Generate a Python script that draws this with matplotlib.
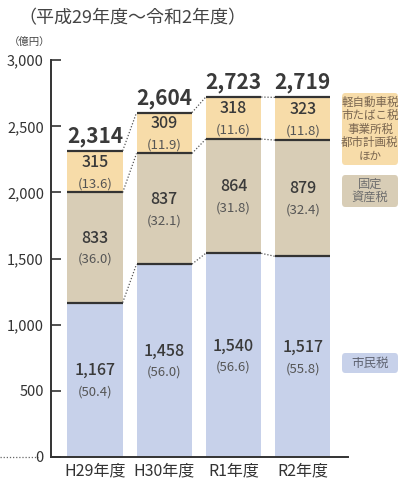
import numpy as np
import matplotlib
matplotlib.use("Agg")
import matplotlib.pyplot as plt
from matplotlib.patches import FancyBboxPatch

plt.rcParams['font.family'] = ['Noto Sans CJK JP', 'DejaVu Sans']

# data
years = ['H29年度', 'H30年度', 'R1年度', 'R2年度']
shimin = [1167, 1458, 1540, 1517]
kotei = [833, 837, 864, 879]
sonota = [315, 309, 318, 323]
totals = ['2,314', '2,604', '2,723', '2,719']
shimin_pct = ['(50.4)', '(56.0)', '(56.6)', '(55.8)']
kotei_pct = ['(36.0)', '(32.1)', '(31.8)', '(32.4)']
sonota_pct = ['(13.6)', '(11.9)', '(11.6)', '(11.8)']
yticks = [0, 500, 1000, 1500, 2000, 2500, 3000]

c_blue = '#c7d1ea'
c_tan = '#d8cdb6'
c_yel = '#f7dca9'
c_text = '#3a3a3a'
c_sub = '#555555'

fig = plt.figure(figsize=(4.14, 4.82), dpi=100)
ax = fig.add_axes([0.123, 0.052, 0.718, 0.823])

x = np.arange(len(years))
w = 0.8
shimin = np.array(shimin)
kotei = np.array(kotei)
sonota = np.array(sonota)
b1 = shimin
b2 = shimin + kotei
b3 = b2 + sonota

ax.bar(x, shimin, w, color=c_blue, zorder=1)
ax.bar(x, kotei, w, bottom=b1, color=c_tan, zorder=1)
ax.bar(x, sonota, w, bottom=b2, color=c_yel, zorder=1)

# dark boundary lines
for lv in (b1, b2, b3):
    for i in range(len(x)):
        ax.plot([x[i] - w / 2, x[i] + w / 2], [lv[i], lv[i]], color='#333333', lw=1.6, zorder=3,
                solid_capstyle='butt')
    # dotted connectors
    for i in range(len(x) - 1):
        ax.plot([x[i] + w / 2, x[i + 1] - w / 2], [lv[i], lv[i + 1]], color='#555555', lw=0.9,
                ls=(0, (1, 1.5)), zorder=3)

# labels
def seg_label(xc, yc, val, pct):
    ax.text(xc, yc + 70, f'{val:,}', ha='center', va='center', fontsize=11.5, color=c_text,
            fontweight='medium', zorder=4)
    ax.text(xc, yc - 90, pct, ha='center', va='center', fontsize=9.5, color=c_sub, zorder=4)

for i in range(len(x)):
    seg_label(x[i], shimin[i] / 2, shimin[i], shimin_pct[i])
    seg_label(x[i], b1[i] + kotei[i] / 2, kotei[i], kotei_pct[i])
    seg_label(x[i], b2[i] + sonota[i] / 2, sonota[i], sonota_pct[i])
    ax.text(x[i], b3[i] + 30, totals[i], ha='center', va='bottom', fontsize=15,
            fontweight='bold', color=c_text)

ax.set_xlim(-0.636, 3.656)
ax.set_ylim(0, 3000)
ax.set_yticks(yticks)
ax.set_yticklabels([f'{v:,}' for v in yticks])
ax.set_xticks(x)
ax.set_xticklabels(years)
ax.tick_params(axis='y', direction='in', length=7, width=1.2, labelsize=10.5, colors='#333333', pad=5)
ax.tick_params(axis='x', length=0, labelsize=11.5, colors='#333333', pad=4)
for s in ('top', 'right'):
    ax.spines[s].set_visible(False)
ax.spines['left'].set_color('#333333')
ax.spines['bottom'].set_color('#333333')
ax.spines['left'].set_linewidth(1.4)
ax.spines['bottom'].set_linewidth(1.4)

# dotted leader at zero on the left
fig.add_artist(plt.Line2D([0.0, 0.092], [0.052, 0.052], color='#666666', lw=0.9,
                          ls=(0, (1, 1.5))))

# legend boxes (pixel boxes converted to figure fractions)
W, H = 414.0, 482.0

def legend_box(x0, y0, x1, y1, txt, color, tcolor, fs=8.3):
    fx, fy = x0 / W, 1 - y1 / H
    fw, fh = (x1 - x0) / W, (y1 - y0) / H
    fig.add_artist(FancyBboxPatch((fx, fy), fw, fh, boxstyle='round,pad=0,rounding_size=0.008',
                                  fc=color, ec='none', transform=fig.transFigure))
    fig.text(fx + fw / 2, fy + fh / 2, txt, ha='center', va='center', fontsize=fs,
             color=tcolor, linespacing=1.05)

legend_box(342, 93, 398, 165, '軽自動車税\n市たばこ税\n事業所税\n都市計画税\nほか', c_yel, '#7a6650')
legend_box(342, 175, 398, 207, '固定\n資産税', c_tan, '#6e6e6e', fs=8.8)
legend_box(342, 353, 398, 373, '市民税', c_blue, '#5e6270', fs=9)

fig.text(0.045, 0.963, '（平成29年度～令和2年度）', ha='left', va='center', fontsize=13, color='#444444')
fig.text(0.02, 0.912, '（億円）', ha='left', va='center', fontsize=7.5, color='#444444')

fig.savefig('out.png', dpi=100, facecolor='white')
